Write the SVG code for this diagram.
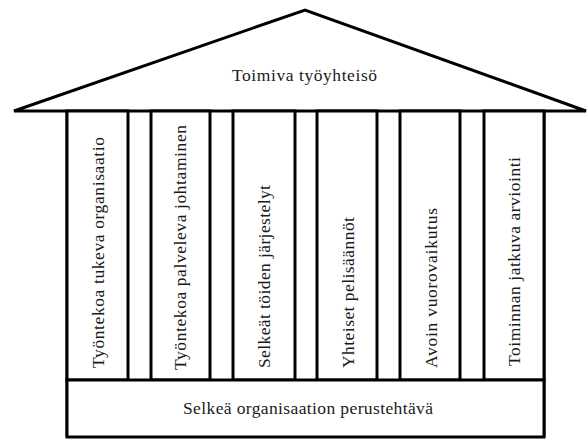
<svg xmlns="http://www.w3.org/2000/svg" width="588" height="439" viewBox="0 0 588 439">
<style>
.ln{fill:#fff;stroke:#000;stroke-width:3;stroke-linejoin:miter}
.t{font-family:"Liberation Serif","Times New Roman",serif;font-size:17.5px;fill:#1a1a1a}
</style>
<rect width="588" height="439" fill="#fff"/>
<g id="roof">
<polygon class="ln" points="14,111 305,10 586,111"/>
<text class="t" x="232" y="81" textLength="145" lengthAdjust="spacing">Toimiva työyhteisö</text>
</g>
<g id="walls">
<line class="ln" x1="67" y1="111" x2="67" y2="437"/>
<line class="ln" x1="544" y1="111" x2="544" y2="437"/>
</g>
<g id="pillar1">
<rect class="ln" x="67" y="111" width="61" height="269"/>
<text class="t" transform="translate(104,368) rotate(-90)" textLength="231" lengthAdjust="spacing">Työntekoa tukeva organisaatio</text>
</g>
<g id="pillar2">
<rect class="ln" x="151" y="111" width="59" height="269"/>
<text class="t" transform="translate(186,370) rotate(-90)" textLength="245" lengthAdjust="spacing">Työntekoa palveleva johtaminen</text>
</g>
<g id="pillar3">
<rect class="ln" x="233" y="111" width="62" height="269"/>
<text class="t" transform="translate(270,368) rotate(-90)" textLength="183" lengthAdjust="spacing">Selkeät töiden järjestelyt</text>
</g>
<g id="pillar4">
<rect class="ln" x="317" y="111" width="60" height="269"/>
<text class="t" transform="translate(354,368) rotate(-90)" textLength="151" lengthAdjust="spacing">Yhteiset pelisäännöt</text>
</g>
<g id="pillar5">
<rect class="ln" x="400" y="111" width="60" height="269"/>
<text class="t" transform="translate(437,368) rotate(-90)" textLength="160" lengthAdjust="spacing">Avoin vuorovaikutus</text>
</g>
<g id="pillar6">
<rect class="ln" x="484" y="111" width="60" height="269"/>
<text class="t" transform="translate(520,366) rotate(-90)" textLength="209" lengthAdjust="spacing">Toiminnan jatkuva arviointi</text>
</g>
<g id="base">
<rect class="ln" x="67" y="380" width="477" height="57"/>
<text class="t" x="183" y="414" textLength="250" lengthAdjust="spacing">Selkeä organisaation perustehtävä</text>
</g>
</svg>
